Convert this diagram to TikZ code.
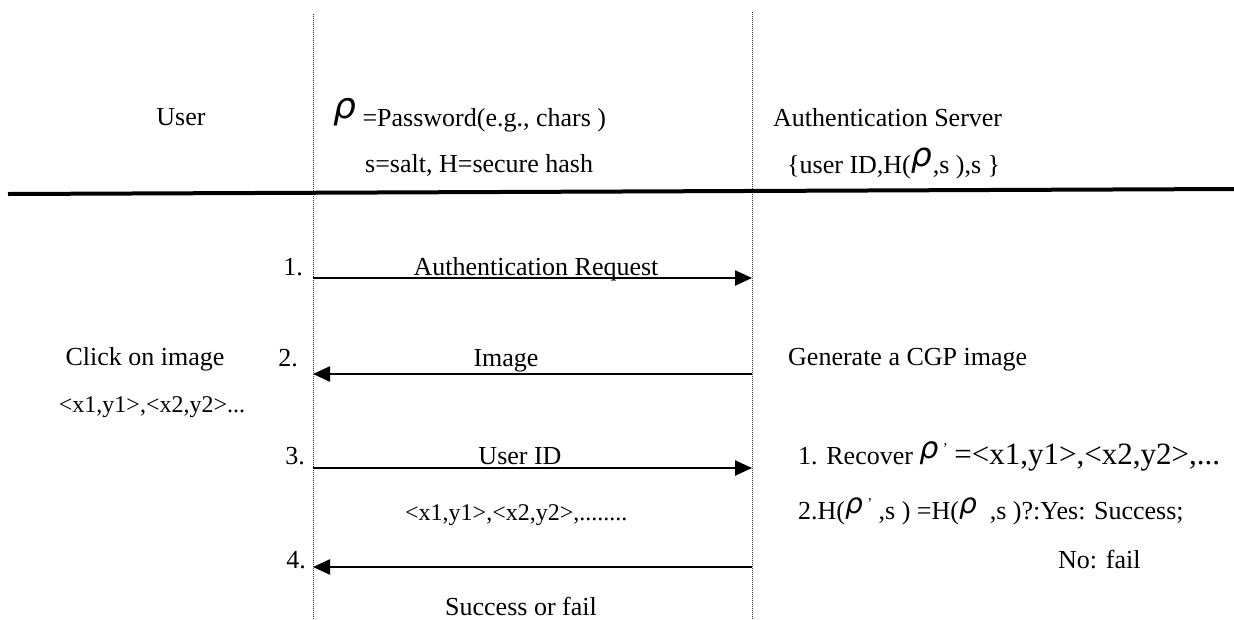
\documentclass[tikz,border=0pt]{standalone}
\usepackage{fontspec}
\setmainfont{Liberation Serif}
\newfontfamily\rhofont{DejaVu Sans}
\usetikzlibrary{arrows.meta}
\newcommand{\myrho}[1]{{\fontsize{#1}{#1}\selectfont\rhofont\itshape\raisebox{0.2em}{ρ}}}
\newcommand{\myprime}{\raisebox{11pt}{\fontsize{15}{15}\selectfont '}}
\tikzset{
  txt/.style={inner sep=0pt, font=\fontsize{26}{30}\selectfont},
  small/.style={inner sep=0pt, font=\fontsize{24}{28}\selectfont},
  lifeline/.style={line width=0.9pt, black!80, dash pattern=on 1pt off 1pt},
  msg/.style={line width=2.4pt, -{Triangle[length=17pt,width=15pt]}},
  divider/.style={line width=4pt}
}
\begin{document}
\begin{tikzpicture}[x=1pt,y=-1pt]
\useasboundingbox (0,0) rectangle (1234,619);
% lifelines
\coordinate (Ltop) at (313,14);
\coordinate (Lbot) at (313,619);
\coordinate (Rtop) at (752,12);
\coordinate (Rbot) at (752,619);
\draw[lifeline] (Ltop) -- (Lbot);
\draw[lifeline] (Rtop) -- (Rbot);
% divider
\coordinate (Dl) at (8,194);
\coordinate (Dr) at (1234,189);
\draw[divider] (Dl) -- (Dr);
% headers
\node[txt, anchor=base] (user) at (181,125) {User};
\node[txt, anchor=base west] (pwd) at (333,126) {\myrho{36}\ =Password(e.g., chars )};
\node[txt, anchor=base west] (salt) at (365,172) {s=salt, H=secure hash};
\node[txt, anchor=base west] (as) at (773,126) {Authentication Server};
\node[txt, anchor=base west] (store) at (787,173) {\{user ID,H(\myrho{33}\kern1pt,s ),s \}};
% messages
\coordinate (m1a) at (313,278);
\coordinate (m1b) at (752,278);
\coordinate (m2a) at (752,374);
\coordinate (m2b) at (313,374);
\coordinate (m3a) at (313,468);
\coordinate (m3b) at (752,468);
\coordinate (m4a) at (752,567);
\coordinate (m4b) at (313,567);
\draw[msg] (m1a) -- (m1b);
\draw[msg] (m2a) -- (m2b);
\draw[msg] (m3a) -- (m3b);
\draw[msg] (m4a) -- (m4b);
\node[txt, anchor=base east] (n1) at (303,275) {1.};
\node[txt, anchor=base east] (n2) at (298,366) {2.};
\node[txt, anchor=base east] (n3) at (305,464) {3.};
\node[txt, anchor=base east] (n4) at (306,568) {4.};
\node[txt, anchor=base] (l1) at (536,275) {Authentication Request};
\node[txt, anchor=base] (l2) at (506,366) {Image};
\node[txt, anchor=base] (l3) at (520,464) {User ID};
\node[small, anchor=base west] (l3b) at (405,520) {<x1,y1>,<x2,y2>,........};
\node[txt, anchor=base] (l4) at (521,615) {Success or fail};
% user side
\node[txt, anchor=base] (click) at (145,365) {Click on image};
\node[small, anchor=base] (clickxy) at (152,412) {<x1,y1>,<x2,y2>...};
% server side
\node[txt, anchor=base west] (gen) at (788,365) {Generate a CGP image};
\node[txt, anchor=base west] (rec) at (798,464) {1. Recover \myrho{30}\,\myprime\ {\fontsize{31}{31}\selectfont =<x1,y1>,<x2,y2>,...}};
\node[txt, anchor=base west] (cmp) at (798,519) {2.H(\myrho{28}\,\myprime\ ,s ) =H(\myrho{28}\ \ ,s )?:Yes: Success;};
\node[txt, anchor=base west] (fail) at (1058,568) {No: fail};
\end{tikzpicture}
\end{document}
